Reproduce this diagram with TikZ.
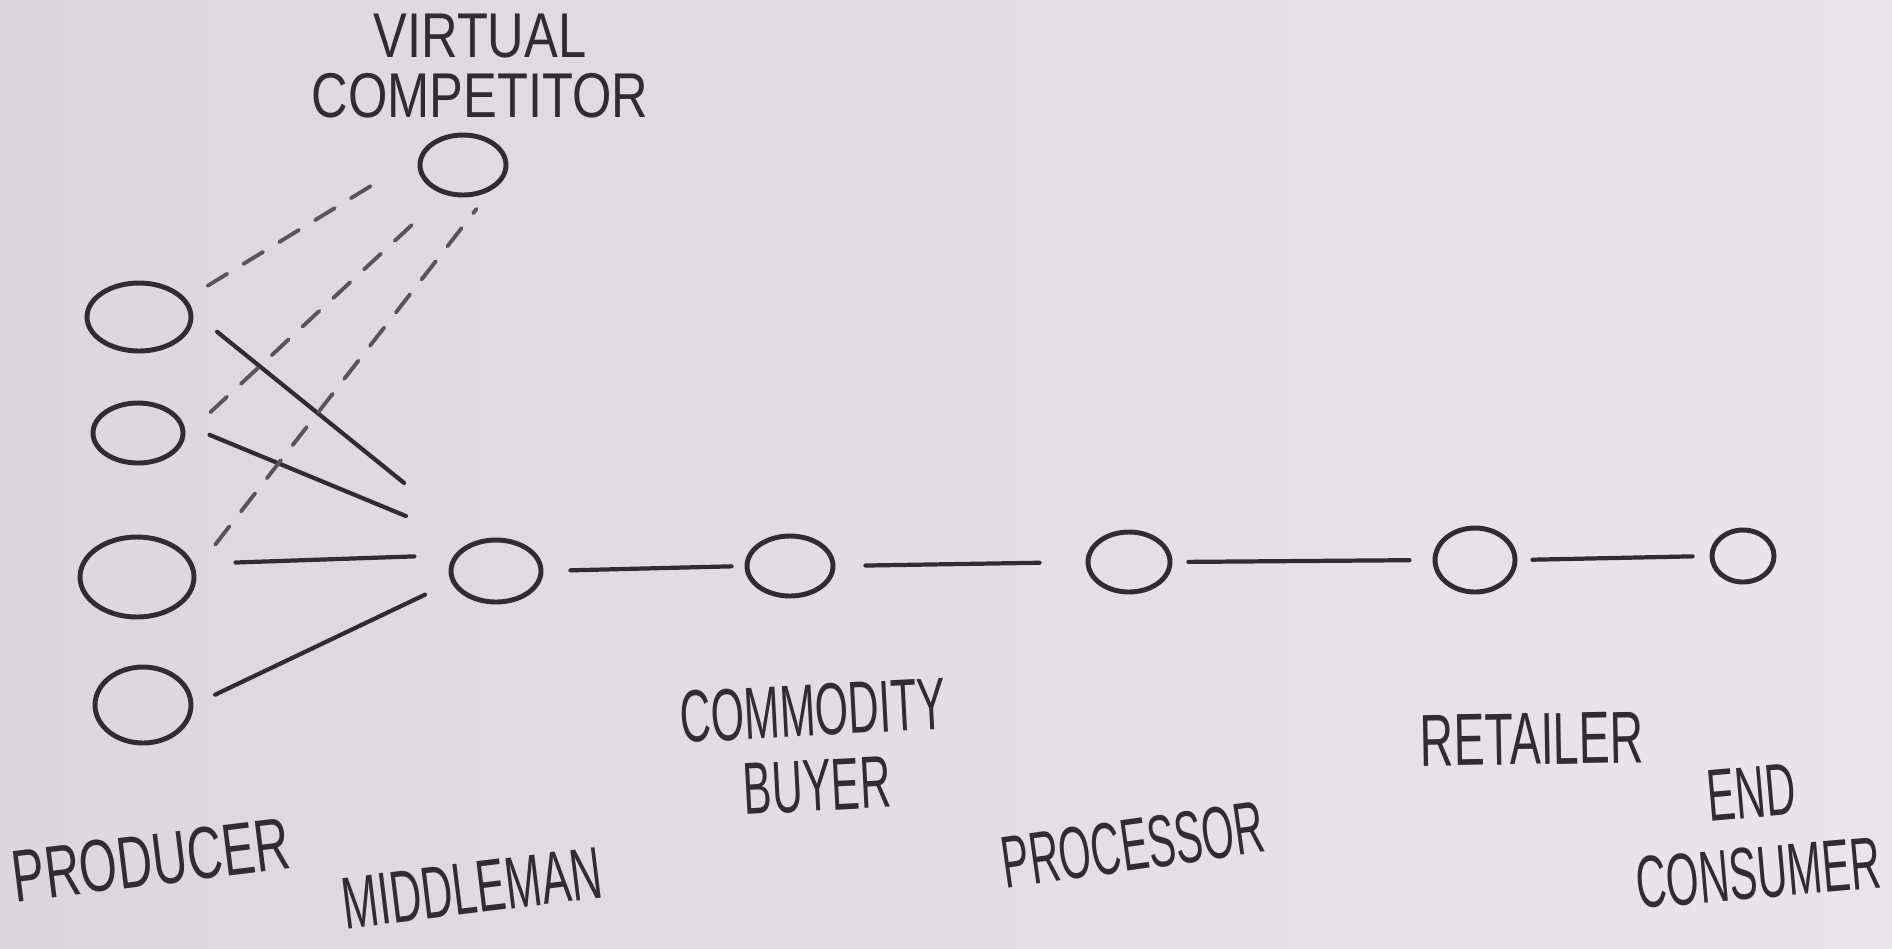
\documentclass[tikz,border=0pt]{standalone}
\usepackage{fontspec}
\setmainfont{Liberation Sans}
\usetikzlibrary{shapes.geometric}
\definecolor{paperdark}{RGB}{218,216,221}
\definecolor{paperlight}{RGB}{232,230,233}
\definecolor{pencil}{RGB}{48,45,48}
\definecolor{pencilsoft}{RGB}{88,85,89}
\begin{document}
\begin{tikzpicture}[x=0.1mm,y=-0.1mm,
  dot/.style={ellipse,draw=pencil,line width=1.4pt,inner sep=0pt},
  wire/.style={pencil,line width=1.2pt,line cap=round},
  ghost/.style={pencilsoft,line width=1.1pt,line cap=round,dash pattern=on 2.3mm off 1.9mm},
  lbl/.style={font=\fontsize{21}{18.5}\selectfont,text=pencil,align=center,inner sep=0pt}]

\useasboundingbox (0,0) rectangle (1892,948);
\shade[left color=paperdark,right color=paperlight] (0,0) rectangle (1892,948);

% producers on the left
\node[dot,minimum width=10.4mm,minimum height=6.8mm] (p1) at (139,317) {};
\node[dot,minimum width=9.0mm,minimum height=6.0mm]  (p2) at (138,433) {};
\node[dot,minimum width=11.4mm,minimum height=8.0mm] (p3) at (137,577) {};
\node[dot,minimum width=9.6mm,minimum height=7.6mm]  (p4) at (143,705) {};

% the chain
\node[dot,minimum width=9.0mm,minimum height=6.2mm] (mid)  at (496,571)  {};
\node[dot,minimum width=8.6mm,minimum height=6.0mm] (buy)  at (790,566)  {};
\node[dot,minimum width=8.2mm,minimum height=6.0mm] (proc) at (1129,562) {};
\node[dot,minimum width=8.0mm,minimum height=6.4mm] (ret)  at (1475,560) {};
\node[dot,minimum width=6.2mm,minimum height=5.2mm] (cons) at (1743,556) {};

\node[dot,minimum width=8.6mm,minimum height=6.0mm] (vc) at (463,165) {};

% producers to middleman
\draw[wire,shorten <=3.1mm,shorten >=9.2mm] (p1.5)  -- (mid.124);
\draw[wire,shorten <=2.8mm,shorten >=7.0mm] (p2.11) -- (mid.132);
\draw[wire,shorten <=4.2mm,shorten >=4.0mm] (p3.13) -- (mid.159);
\draw[wire,shorten <=2.4mm,shorten >=2.9mm] (p4.0)  -- (mid.194);

\draw[wire,shorten <=2.7mm,shorten >=1.3mm] (mid.east)  -- (buy.west);
\draw[wire,shorten <=3.0mm,shorten >=4.6mm] (buy.east)  -- (proc.west);
\draw[wire,shorten <=1.6mm,shorten >=2.3mm] (proc.east) -- (ret.west);
\draw[wire,shorten <=1.5mm,shorten >=1.7mm] (ret.east)  -- (cons.west);

% links to the virtual competitor
\draw[ghost,shorten <=2.5mm,shorten >=5.1mm] (p1.21) -- (vc.169);
\draw[ghost,shorten <=3.4mm,shorten >=2.6mm] (p2.-3) -- (vc.238);
\draw[ghost,shorten <=3.2mm,shorten >=2.3mm] (p3.7)  -- (vc.-43);

% labels
\node[lbl,font=\fontsize{18}{17}\selectfont,xscale=0.8] (lvc) at (480,66) {VIRTUAL\\COMPETITOR};
\node[lbl,rotate=7,xscale=0.66] (lprod) at (151,860) {PRODUCER};
\node[lbl,rotate=7,xscale=0.59] (lmid) at (472,888) {MIDDLEMAN};
\node[lbl,font=\fontsize{21}{21.5}\selectfont,rotate=3,xscale=0.58] (lbuy) at (815,748) {COMMODITY\\BUYER};
\node[lbl,rotate=8,xscale=0.56] (lproc) at (1133,845) {PROCESSOR};
\node[lbl,rotate=1,xscale=0.63] (lret) at (1532,739) {RETAILER};
\node[lbl,font=\fontsize{21}{23}\selectfont,rotate=5,xscale=0.57] (lcons) at (1755,833) {END\\CONSUMER};

\end{tikzpicture}
\end{document}
